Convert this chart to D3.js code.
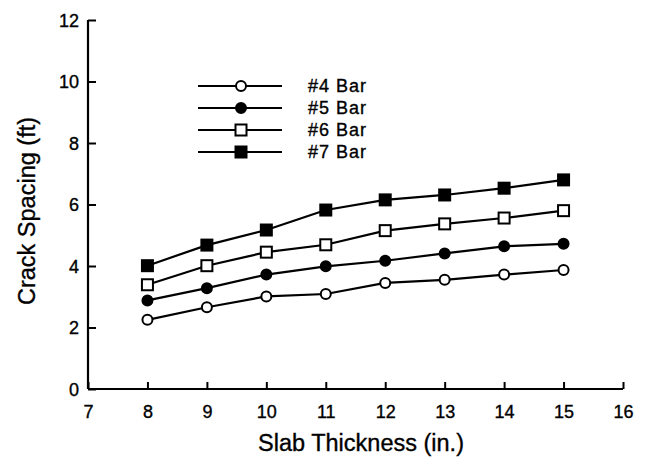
<!DOCTYPE html>
<html>
<head>
<meta charset="utf-8">
<script src="https://cdn.jsdelivr.net/npm/d3@7"></script>
<style>
  body { margin: 0; background: #fff; }
  text { font-family: "Liberation Sans", Arial, Helvetica, sans-serif; fill: #000; stroke: #000; stroke-width: 0.35px; }
</style>
</head>
<body>
<svg id="chart" width="646" height="459"></svg>
<script>
// Crack spacing vs slab thickness, one series per bar size
const thickness = [8, 9, 10, 11, 12, 13, 14, 15];
const bar4 = [2.25, 2.66, 3.01, 3.09, 3.45, 3.55, 3.72, 3.87];
const bar5 = [2.88, 3.28, 3.72, 3.99, 4.17, 4.41, 4.64, 4.72];
const bar6 = [3.39, 4.01, 4.45, 4.69, 5.15, 5.37, 5.56, 5.80];
const bar7 = [4.01, 4.68, 5.17, 5.82, 6.15, 6.31, 6.53, 6.80];
const seriesNames = ['#4 Bar', '#5 Bar', '#6 Bar', '#7 Bar'];
const xTicks = [7, 8, 9, 10, 11, 12, 13, 14, 15, 16];
const yTicks = [0, 2, 4, 6, 8, 10, 12];

const series = [
    { name: seriesNames[0], values: bar4, shape: 'circle', filled: false },
    { name: seriesNames[1], values: bar5, shape: 'circle', filled: true },
    { name: seriesNames[2], values: bar6, shape: 'square', filled: false },
    { name: seriesNames[3], values: bar7, shape: 'square', filled: true },
];

const svg = d3.select('#chart');

const x = d3.scaleLinear().domain([7, 16]).range([88, 623]);
const y = d3.scaleLinear().domain([0, 12]).range([389, 20]);

// Axes - ticks point inward
const xAxis = d3.axisBottom(x).tickValues(xTicks).tickSize(-7).tickPadding(16).tickFormat(d3.format('d'));
const yAxis = d3.axisLeft(y).tickValues(yTicks).tickSize(-8).tickPadding(9).tickFormat(d3.format('d'));

const gx = svg.append('g').attr('transform', `translate(0,${y(0)})`).call(xAxis);
const gy = svg.append('g').attr('transform', `translate(${x(7)},0)`).call(yAxis);

[gx, gy].forEach(g => {
    g.select('.domain').attr('stroke', '#000').attr('stroke-width', 2.2);
    g.selectAll('.tick line').attr('stroke', '#000').attr('stroke-width', 2);
    g.selectAll('.tick text').style('font-size', '18px').attr('fill', '#000');
});
gx.select('.domain').attr('d', `M${x(7)},0H${x(16)}`);
gy.select('.domain').attr('d', `M0,${y(12)}V${y(0)}`);
gy.selectAll('.tick text').attr('dy', '0.36em');

// Axis titles
svg.append('text')
    .attr('x', 361).attr('y', 451)
    .attr('text-anchor', 'middle')
    .style('font-size', '23.5px')
    .text('Slab Thickness (in.)');

svg.append('text')
    .attr('transform', 'translate(35,211) rotate(-90)')
    .attr('text-anchor', 'middle')
    .style('font-size', '23.5px')
    .text('Crack Spacing (ft)');

function drawMarker(g, s) {
    if (s.shape === 'circle') {
        g.append('circle').attr('r', 5)
            .attr('fill', s.filled ? '#000' : '#fff')
            .attr('stroke', '#000').attr('stroke-width', 2);
    } else {
        g.append('rect').attr('x', -5.5).attr('y', -5.5).attr('width', 11).attr('height', 11)
            .attr('fill', s.filled ? '#000' : '#fff')
            .attr('stroke', '#000').attr('stroke-width', 2);
    }
}

const line = d3.line()
    .x((d, i) => x(thickness[i]))
    .y(d => y(d));

const plot = svg.append('g');
series.forEach(s => {
    plot.append('path')
        .attr('d', line(s.values))
        .attr('fill', 'none')
        .attr('stroke', '#000')
        .attr('stroke-width', 2.2);
    s.values.forEach((v, i) => {
        const g = plot.append('g').attr('transform', `translate(${x(thickness[i])},${y(v)})`);
        drawMarker(g, s);
    });
});

// Legend
const legend = svg.append('g').attr('transform', 'translate(198,86)');
series.forEach((s, i) => {
    const row = legend.append('g').attr('transform', `translate(0,${i * 22})`);
    row.append('line').attr('x1', 0).attr('x2', 84).attr('y1', 0).attr('y2', 0)
        .attr('stroke', '#000').attr('stroke-width', 2.2);
    drawMarker(row.append('g').attr('transform', 'translate(43,0)'), s);
    row.append('text')
        .attr('x', 110).attr('y', 0).attr('dy', '0.36em')
        .style('font-size', '18px')
        .style('letter-spacing', '1px')
        .text(s.name);
});
</script>
</body>
</html>
